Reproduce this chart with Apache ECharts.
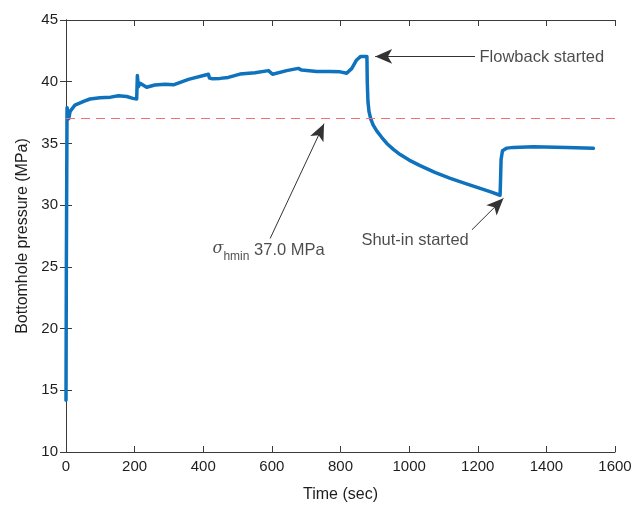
<!DOCTYPE html>
<html lang="en">
<head>
<meta charset="UTF-8">
<title>Bottomhole pressure</title>
<script src="https://cdn.jsdelivr.net/npm/echarts@6/dist/echarts.min.js"></script>
<style>
  html, body { margin: 0; padding: 0; background: #fff; }
</style>
</head>
<body>
<div id="container" style="width: 644px;height: 505px"></div>
<script>
// data
var timeSec = [0, 1, 3, 5, 8, 12, 26, 55, 70, 75, 99, 130, 153, 177, 195, 206, 208, 211, 216, 235, 259, 289, 313, 357, 415, 418, 425, 449, 473, 507, 551, 590, 602, 643, 677, 687, 731, 770, 799, 818, 833, 847, 859, 877, 878, 880, 883, 888, 895, 906, 920, 935, 955, 974, 1000, 1032, 1075, 1120, 1165, 1207, 1240, 1265, 1266, 1268, 1272, 1285, 1304, 1362, 1459, 1537];
var pressure = [14.2, 25.0, 37.9, 37.6, 37.0, 37.6, 38.1, 38.44, 38.6, 38.5, 38.7, 38.75, 38.87, 38.8, 38.65, 38.6, 40.5, 39.6, 39.87, 39.55, 39.73, 39.8, 39.75, 40.19, 40.6, 40.3, 40.25, 40.27, 40.35, 40.62, 40.73, 40.9, 40.6, 40.9, 41.08, 40.94, 40.82, 40.82, 40.8, 40.68, 41.08, 41.76, 42.05, 42.05, 40.0, 38.4, 37.6, 37.0, 36.5, 36.0, 35.5, 35.0, 34.5, 34.1, 33.65, 33.2, 32.65, 32.17, 31.75, 31.36, 31.05, 30.8, 31.6, 33.7, 34.4, 34.62, 34.68, 34.73, 34.68, 34.6];
var sigmaHmin = 37.0;

// annotation arrows: [tailTime, tailP, headTime, headP]
var arrowFlowback = [1192, 42.05, 901, 42.05];
var arrowSigma = [595, 27.3, 752, 36.6];
var arrowShutin = [1183, 28.0, 1275, 30.55];
// annotation texts: [time, pressure]
var textFlowback = [1205, 42.0];
var textSigma = [427, 26.3];
var textShutin = [861, 27.1];

var chart = echarts.init(document.getElementById('container'));

var axisColor = '#3a3a3a';
var textColor = '#1e1e1e';
var fontFam = 'Liberation Sans, Arial, sans-serif';

function arrowLine(a) {
    return [
        { coord: [a[0], a[1]], symbol: 'none' },
        { coord: [a[2], a[3]], symbol: 'arrow', symbolSize: [11, 17] }
    ];
}

var option = {
    backgroundColor: '#fff',
    animation: false,
    grid: { left: 66, right: 29, top: 20, bottom: 53, outerBoundsMode: 'none' },
    xAxis: [
        {
            type: 'value', min: 0, max: 1600, interval: 200,
            name: 'Time (sec)', nameLocation: 'middle', nameGap: 35,
            nameTextStyle: { fontSize: 16, color: textColor, fontFamily: fontFam },
            axisLine: { lineStyle: { color: axisColor, width: 1 } },
            axisTick: { inside: true, length: 6, lineStyle: { color: axisColor } },
            axisLabel: { fontSize: 15, color: textColor, margin: 7, fontFamily: fontFam,
                formatter: function (v) { return String(v); } },
            splitLine: { show: false }
        },
        {
            type: 'value', min: 0, max: 1600, interval: 200, position: 'top',
            axisLine: { show: true, lineStyle: { color: axisColor, width: 1 } },
            axisTick: { show: true, inside: true, length: 6, lineStyle: { color: axisColor } },
            axisLabel: { show: false },
            splitLine: { show: false }
        }
    ],
    yAxis: [
        {
            type: 'value', min: 10, max: 45, interval: 5,
            name: 'Bottomhole pressure (MPa)', nameLocation: 'middle', nameGap: 35,
            nameTextStyle: { fontSize: 16, color: textColor, fontFamily: fontFam },
            axisLine: { show: true, lineStyle: { color: axisColor, width: 1 } },
            axisTick: { show: true, inside: true, length: 6, lineStyle: { color: axisColor } },
            axisLabel: { fontSize: 15, color: textColor, margin: 8, fontFamily: fontFam },
            splitLine: { show: false }
        },
        {
            type: 'value', min: 10, max: 45, interval: 5, position: 'right',
            axisLine: { show: true, lineStyle: { color: axisColor, width: 1 } },
            axisTick: { show: true, inside: true, length: 6, lineStyle: { color: axisColor } },
            axisLabel: { show: false },
            splitLine: { show: false }
        }
    ],
    series: [
        {
            name: 'pressure',
            type: 'line',
            showSymbol: false,
            data: timeSec.map(function (t, i) { return [t, pressure[i]]; }),
            lineStyle: { color: '#0f72bd', width: 3.5, join: 'round', cap: 'round' },
            markLine: {
                silent: true,
                symbol: 'none',
                label: { show: false },
                lineStyle: { color: '#f36e6e', type: [9, 6], width: 1.2 },
                data: [{ yAxis: sigmaHmin }]
            },
            z: 3
        },
        {
            name: 'arrows',
            type: 'line',
            data: [],
            markLine: {
                silent: true,
                label: { show: false },
                lineStyle: { color: '#333', type: 'solid', width: 1 },
                itemStyle: { color: '#111' },
                data: [arrowLine(arrowFlowback), arrowLine(arrowSigma), arrowLine(arrowShutin)]
            },
            z: 4
        },
        {
            name: 'texts',
            type: 'scatter',
            symbolSize: 0,
            silent: true,
            data: [
                { value: textFlowback, label: { formatter: 'Flowback started' } },
                { value: textSigma, label: { formatter: '{s|σ}{sub|hmin} 37.0 MPa' } },
                { value: textShutin, label: { formatter: 'Shut-in started' } }
            ],
            label: {
                show: true,
                position: 'right',
                distance: 0,
                fontSize: 16.5,
                color: textColor,
                fontFamily: fontFam,
                rich: {
                    s: { fontSize: 16, fontStyle: 'italic', fontFamily: 'DejaVu Serif, serif', color: textColor, padding: [0, 0, 4, 0] },
                    sub: { fontSize: 12, color: textColor, fontFamily: fontFam, padding: [11, 0, 0, 0] }
                }
            },
            z: 5
        }
    ]
};
chart.setOption(option);
</script>
</body>
</html>
